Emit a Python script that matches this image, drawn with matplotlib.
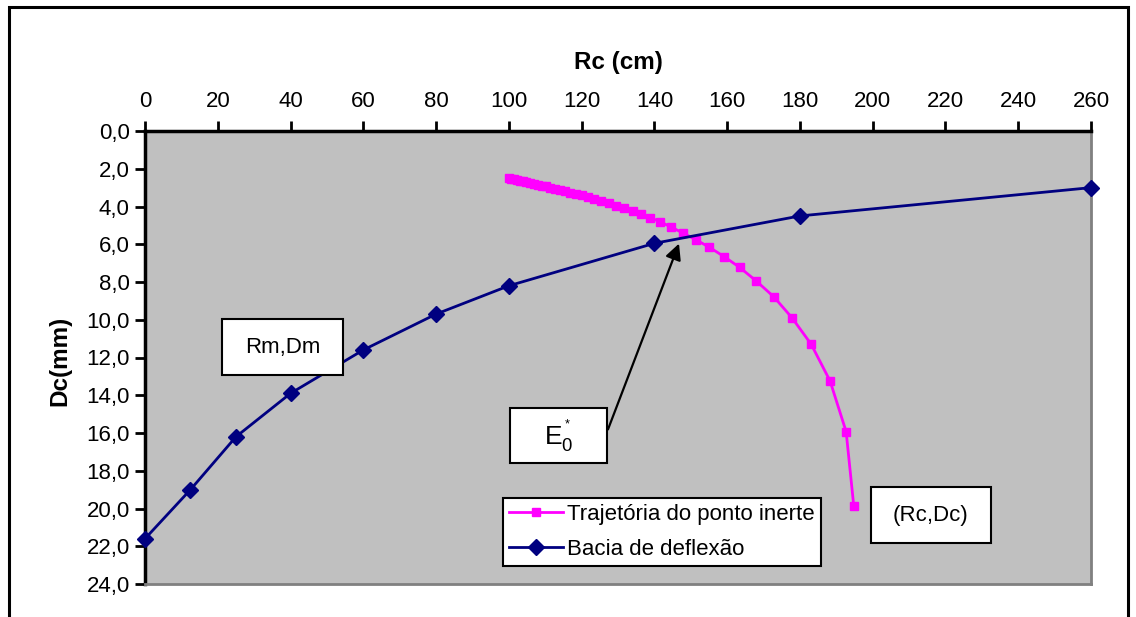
import matplotlib
matplotlib.use('Agg')
import matplotlib.pyplot as plt
from matplotlib.patches import Rectangle, FancyArrowPatch
from matplotlib.ticker import FuncFormatter

# ---- data ----
bacia_rc = [0, 12.5, 25, 40, 60, 80, 100, 140, 180, 260]
bacia_dc = [21.6, 19.0, 16.2, 13.9, 11.6, 9.7, 8.2, 5.95, 4.5, 3.0]

traj_rc = [100.0, 100.7, 101.4, 102.2, 103.0, 103.9, 104.8, 105.8, 106.8, 107.9,
           109.0, 110.2, 111.4, 112.7, 114.0, 115.4, 116.9, 118.4, 120.0, 121.7,
           123.5, 125.4, 127.4, 129.5, 131.7, 134.0, 136.4, 138.9, 141.5, 144.5,
           147.8, 151.5, 155.1, 159.2, 163.4, 167.9, 172.8, 177.8, 183.1, 188.3,
           192.7, 194.8]
traj_dc = [2.50, 2.53, 2.56, 2.59, 2.63, 2.67, 2.71, 2.75, 2.79, 2.84,
           2.89, 2.94, 3.00, 3.06, 3.12, 3.19, 3.26, 3.33, 3.41, 3.50,
           3.60, 3.71, 3.83, 3.96, 4.10, 4.25, 4.42, 4.60, 4.80, 5.08,
           5.40, 5.77, 6.16, 6.66, 7.22, 7.93, 8.78, 9.89, 11.30, 13.25,
           15.93, 19.87]

x_ticks = list(range(0, 261, 20))
y_ticks = list(range(0, 25, 2))

label_traj = 'Trajetória do ponto inerte'
label_bacia = 'Bacia de deflexão'
x_title = 'Rc (cm)'
y_title = 'Dc(mm)'

# ---- style ----
plt.rcParams['font.family'] = ['Liberation Sans', 'DejaVu Sans']
plt.rcParams['mathtext.fontset'] = 'custom'
plt.rcParams['mathtext.rm'] = 'Liberation Sans'
plt.rcParams['mathtext.it'] = 'Liberation Sans'

W, H = 1136, 617
FS = 16
FSB = 17.5
fig = plt.figure(figsize=(W / 100, H / 100), dpi=100)
fig.patch.set_facecolor('white')

L, R, T, B = 145, 1091, 131, 584
ax = fig.add_axes([L / W, 1 - B / H, (R - L) / W, (B - T) / H])
ax.set_facecolor('#C0C0C0')

h_traj, = ax.plot(traj_rc, traj_dc, color='#FF00FF', lw=2, marker='s', ms=6,
                  mec='#FF00FF', label=label_traj, zorder=3)
h_bacia, = ax.plot(bacia_rc, bacia_dc, color='#000080', lw=2, marker='D', ms=8.5,
                   mec='#000080', label=label_bacia, zorder=4, clip_on=False)

ax.set_xlim(0, 260)
ax.set_ylim(24, 0)
ax.xaxis.tick_top()
ax.set_xticks(x_ticks)
ax.set_yticks(y_ticks)
ax.yaxis.set_major_formatter(FuncFormatter(lambda v, p: f'{v:.1f}'.replace('.', ',')))
ax.tick_params(axis='x', direction='out', length=7, width=2, pad=7, labelsize=FS)
ax.tick_params(axis='y', direction='out', length=7, width=2, pad=4, labelsize=FS)
for s in ('top', 'left'):
    ax.spines[s].set_color('black')
    ax.spines[s].set_linewidth(2.5)
for s in ('right', 'bottom'):
    ax.spines[s].set_color('#808080')
    ax.spines[s].set_linewidth(2)

fig.text((L + R) / 2 / W, 1 - 62 / H, x_title, ha='center', va='center',
         fontsize=FSB, fontweight='bold')
fig.text(60 / W, 1 - 361 / H, y_title, ha='center', va='center', rotation=90,
         fontsize=FSB, fontweight='bold')

leg = ax.legend(handles=[h_traj, h_bacia], loc='upper left',
                bbox_to_anchor=(503 / W, 1 - 498 / H), bbox_transform=fig.transFigure,
                borderaxespad=0, fancybox=False, edgecolor='black', framealpha=1,
                fontsize=FS, handlelength=2.4, borderpad=0.28, labelspacing=0.62,
                handletextpad=0.2)
leg.get_frame().set_linewidth(1.5)


def box(x0, y0, x1, y1, text, size=FS):
    fig.add_artist(Rectangle((x0 / W, 1 - y1 / H), (x1 - x0) / W, (y1 - y0) / H,
                             transform=fig.transFigure, facecolor='white',
                             edgecolor='black', lw=1.5, zorder=5))
    fig.text((x0 + x1) / 2 / W, 1 - (y0 + y1) / 2 / H, text, ha='center', va='center',
             fontsize=size, zorder=6)


# arrow from E0* box to intersection
fig.add_artist(FancyArrowPatch(
    (607 / W, 1 - 432 / H), (680 / W, 1 - 241 / H), transform=fig.transFigure,
    arrowstyle='-|>', mutation_scale=24, color='black', lw=1.6, zorder=4))

box(222, 319, 343, 375, 'Rm,Dm')
box(510, 408, 607, 463, r'$\mathrm{E}_{0}^{^*}$', size=19)
box(871, 487, 991, 543, '(Rc,Dc)')

# outer frame
fig.add_artist(Rectangle((9 / W, -0.05), (1128 - 9) / W, 1.05 - 7 / H,
                         transform=fig.transFigure, fill=False, edgecolor='black',
                         lw=2.2, zorder=10))

fig.savefig('out.png', dpi=100)
